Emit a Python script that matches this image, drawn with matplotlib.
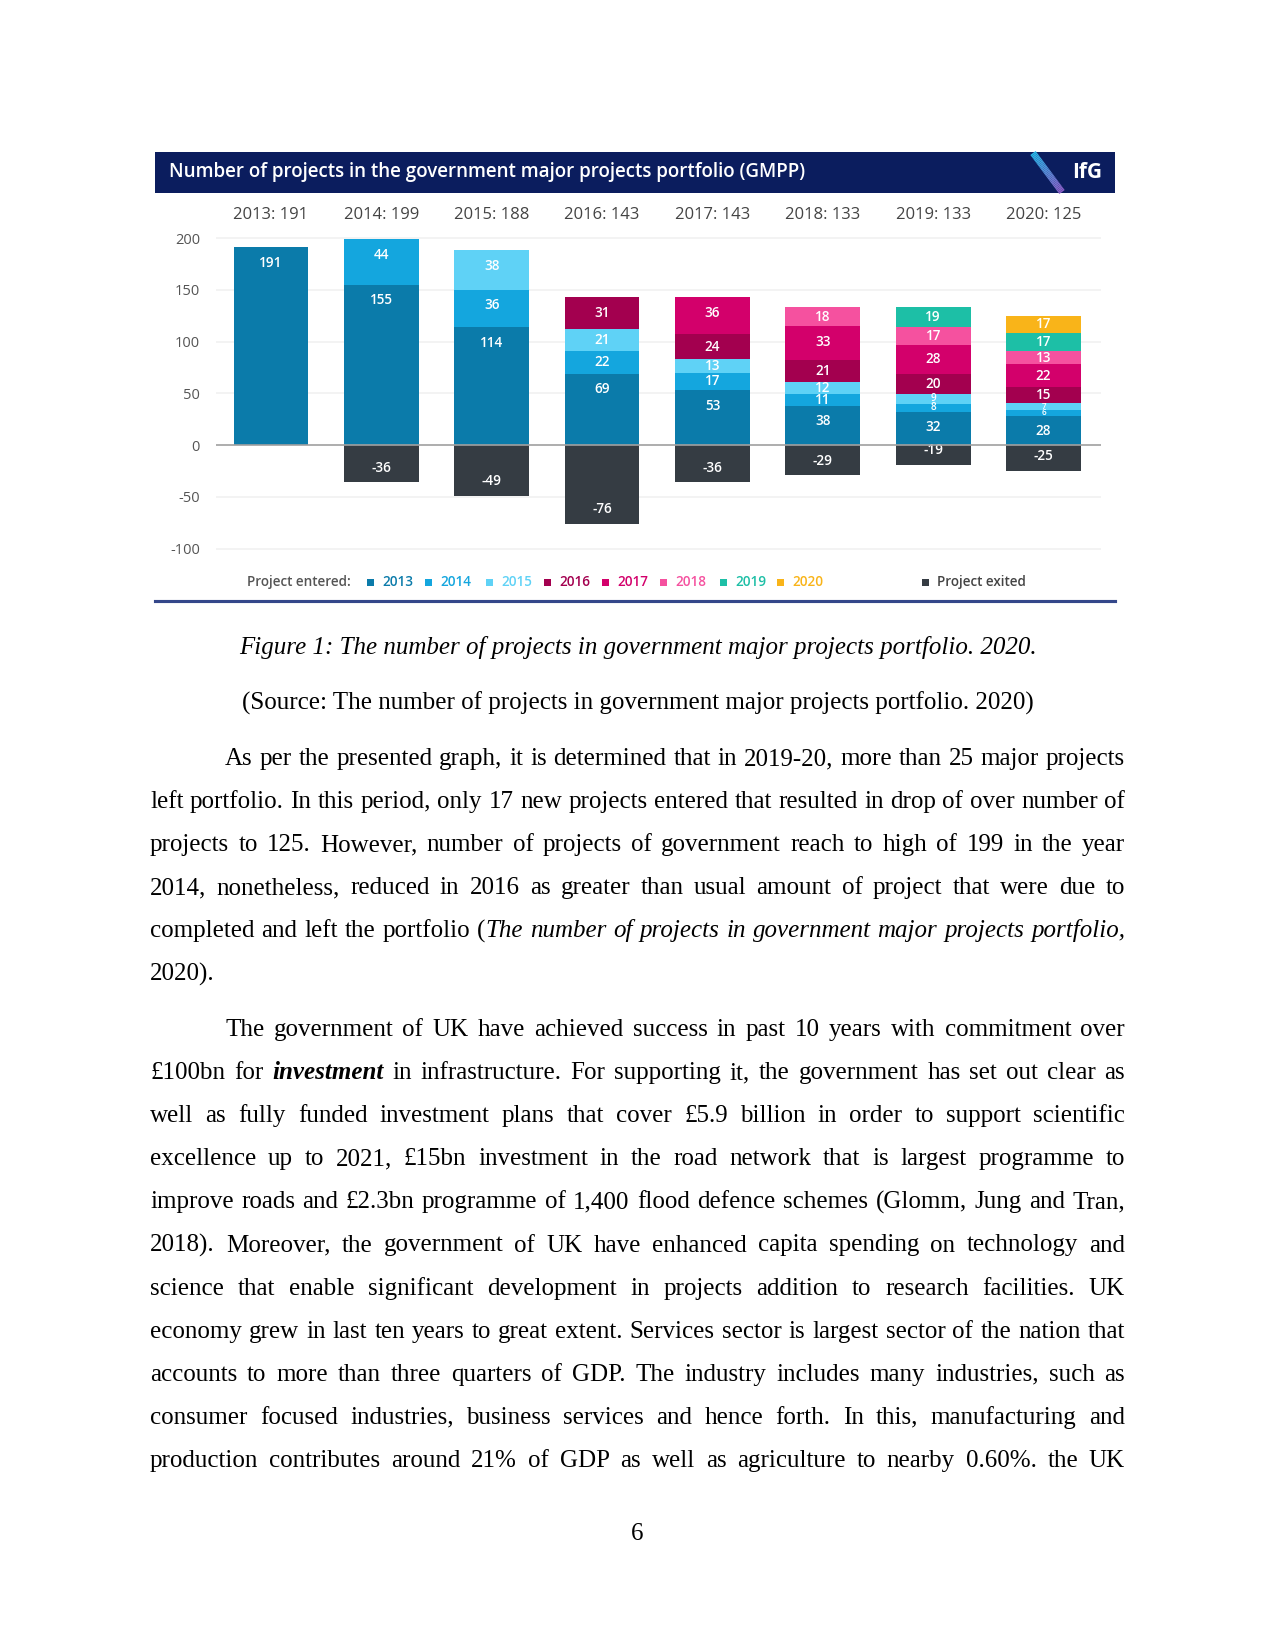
# Pagina con el grafico de proyectos del GMPP y el texto que lo acompana

import matplotlib
matplotlib.use('Agg')
import numpy as np
import matplotlib.pyplot as plt
from matplotlib.patches import Rectangle
from matplotlib.lines import Line2D

W, H = 1275, 1650  # tamano de la pagina en pixeles

# Datos del grafico: cada cohorte (ano de entrada) en cada foto anual
snapshots = ['2013', '2014', '2015', '2016', '2017', '2018', '2019', '2020']
cohorts = ['2013', '2014', '2015', '2016', '2017', '2018', '2019', '2020']
c2013 = [191, 155, 114, 69, 53, 38, 32, 28]
c2014 = [0, 44, 36, 22, 17, 11, 8, 6]
c2015 = [0, 0, 38, 21, 13, 12, 9, 7]
c2016 = [0, 0, 0, 31, 24, 21, 20, 15]
c2017 = [0, 0, 0, 0, 36, 33, 28, 22]
c2018 = [0, 0, 0, 0, 0, 18, 17, 13]
c2019 = [0, 0, 0, 0, 0, 0, 19, 17]
c2020 = [0, 0, 0, 0, 0, 0, 0, 17]
exited = [0, -36, -49, -76, -36, -29, -19, -25]
series = [c2013, c2014, c2015, c2016, c2017, c2018, c2019, c2020]
yticks = [-100, -50, 0, 50, 100, 150, 200]

title = 'Number of projects in the government major projects portfolio (GMPP)'

colores = ['#0B7BAA', '#14A6DE', '#5FD2F6', '#A3004F', '#D3006B',
           '#F5519F', '#1DBFA6', '#F9B419']
color_exit = '#353C43'

# Texto de la pagina (| abre/cierra cursiva, # abre/cierra negrita cursiva)
caption = 'Figure 1: The number of projects in government major projects portfolio. 2020.'
source = '(Source: The number of projects in government major projects portfolio. 2020)'
para1 = [
    'As per the presented graph, it is determined that in 2019-20, more than 25 major projects',
    'left portfolio. In this period, only 17 new projects entered that resulted in drop of over number of',
    'projects to 125. However, number of projects of government reach to high of 199 in the year',
    '2014, nonetheless, reduced in 2016 as greater than usual amount of project that were due to',
    'completed and left the portfolio (|The number of projects in government major projects portfolio,|',
    '2020).',
]
para2 = [
    'The government of UK have achieved success in past 10 years with commitment over',
    '£100bn for #investment# in infrastructure. For supporting it, the government has set out clear as',
    'well as fully funded investment plans that cover £5.9 billion in order to support scientific',
    'excellence up to 2021, £15bn investment in the road network that is largest programme to',
    'improve roads and £2.3bn programme of 1,400 flood defence schemes (Glomm, Jung and Tran,',
    '2018). Moreover, the government of UK have enhanced capita spending on technology and',
    'science that enable significant development in projects addition to research facilities. UK',
    'economy grew in last ten years to great extent. Services sector is largest sector of the nation that',
    'accounts to more than three quarters of GDP. The industry includes many industries, such as',
    'consumer focused industries, business services and hence forth. In this, manufacturing and',
    'production contributes around 21% of GDP as well as agriculture to nearby 0.60%. the UK',
]


def fx(x):
    return x / W


def fy(y):
    return 1 - y / H


fig = plt.figure(figsize=(W / 150, H / 150), dpi=150)
fig.patch.set_facecolor('white')

# ---- cabecera del grafico ----
fig.add_artist(Rectangle((fx(154.6), fy(192.5)), (1115 - 154.6) / W, 40 / H,
                         transform=fig.transFigure, color='#0B1D5E', lw=0))
fig.text(fx(169), fy(172), title, color='white', fontsize=9, fontweight='semibold',
         family='Open Sans', va='center', ha='left')
# franja del logo con degradado
n = 30
for k in range(n):
    t0, t1 = k / n, (k + 1) / n
    xa, ya = 1033 + 29 * t0, 153 + 39 * t0
    xb, yb = 1033 + 29 * t1, 153 + 39 * t1
    c = np.array([0.16, 0.72, 0.91]) * (1 - t0) + np.array([0.56, 0.36, 0.78]) * t0
    fig.add_artist(Line2D([fx(xa), fx(xb)], [fy(ya), fy(yb)], color=c, lw=3.2,
                          transform=fig.transFigure, solid_capstyle='butt'))
fig.text(fx(1087), fy(172), 'IfG', color='white', fontsize=10, fontweight='bold',
         family='Open Sans', va='center', ha='center')

# ---- grafico de barras ----
ax = fig.add_axes([fx(215.7), fy(558.9), (1101 - 215.7) / W, (558.9 - 201.8) / H])
x = np.arange(len(snapshots))
ancho = 0.677

for yt in yticks:
    if yt != 0:
        ax.axhline(yt, color='#f1f1f1', lw=0.8, zorder=0)


def tam(v):
    # los segmentos muy finos llevan la etiqueta mas chica
    if v >= 10:
        return 6.5
    if v >= 8:
        return 4.8
    return 3.9


bottom = np.zeros(len(snapshots))
for nombre, vals, col in zip(cohorts, series, colores):
    vals = np.array(vals, dtype=float)
    ax.bar(x, vals, ancho, bottom=bottom, color=col, lw=0, zorder=2)
    for i, v in enumerate(vals):
        if v > 0:
            top = bottom[i] + v
            ax.text(x[i], top - min(v / 2, 15), '%d' % v, ha='center', va='center',
                    color='white', fontsize=tam(v),
                    fontweight='semibold', family='Open Sans', zorder=3)
    bottom += vals

ax.bar(x, exited, ancho, color=color_exit, lw=0, zorder=2)
for i, v in enumerate(exited):
    if v < 0:
        ax.text(x[i], v + 14, '%d' % v, ha='center', va='center', color='white',
                fontsize=6.5, fontweight='semibold', family='Open Sans', zorder=3)

ax.axhline(0, color='#a0a0a0', lw=0.8, zorder=3)

totales = np.array(series).sum(axis=0)
for i, s in enumerate(snapshots):
    ax.text(x[i], 222.6, '%s: %d' % (s, totales[i]), ha='center', va='center',
            fontsize=8, color='#444444', family='Open Sans')

ax.set_xlim(-0.5, 7.52)
ax.set_ylim(-110, 235)
ax.set_xticks([])
ax.set_yticks(yticks)
ax.set_yticklabels([str(v) for v in yticks], family='Open Sans', fontsize=7, color='#555555')
ax.tick_params(axis='y', length=0, pad=7.5)
for sp in ax.spines.values():
    sp.set_visible(False)
ax.patch.set_alpha(0)

# ---- leyenda ----
leg_x = [367, 425, 486, 544, 602, 660, 720, 777]
ly = 582
fig.text(fx(247), fy(ly), 'Project entered:', fontsize=6.5, fontweight='semibold',
         color='#555555', family='Open Sans', va='center', ha='left')
for lx, nombre, col in zip(leg_x, cohorts, colores):
    fig.add_artist(Rectangle((fx(lx), fy(ly + 3.5)), 7 / W, 7 / H,
                             transform=fig.transFigure, color=col, lw=0))
    fig.text(fx(lx + 15), fy(ly), nombre, fontsize=6.5, fontweight='semibold',
             color=col, family='Open Sans', va='center', ha='left')
fig.add_artist(Rectangle((fx(922), fy(ly + 3.5)), 7 / W, 7 / H,
                         transform=fig.transFigure, color=color_exit, lw=0))
fig.text(fx(937), fy(ly), 'Project exited', fontsize=6.5, fontweight='semibold',
         color='#444444', family='Open Sans', va='center', ha='left')

fig.add_artist(Line2D([fx(154.6), fx(1115)], [fy(600.7), fy(600.7)], color='#34478A',
                      lw=1.5, transform=fig.transFigure))

# ---- texto del documento ----
renderer = fig.canvas.get_renderer()


def put(txt, estilo, x, y, ha='left'):
    kw = dict(family='Liberation Serif', fontsize=12, color='black', va='baseline', ha=ha)
    if estilo != 'normal':
        kw['style'] = 'italic'
    if estilo == 'bolditalic':
        kw['weight'] = 'bold'
    t = fig.text(fx(x), fy(y), txt, **kw)
    return t, t.get_window_extent(renderer).width


def partir(line):
    palabras = []
    estilo = 'normal'
    for w in line.split(' '):
        piezas = []
        buf = ''
        for ch in w:
            if ch in '|#':
                if buf:
                    piezas.append((buf, estilo))
                buf = ''
                if ch == '|':
                    estilo = 'italic' if estilo == 'normal' else 'normal'
                else:
                    estilo = 'bolditalic' if estilo == 'normal' else 'normal'
            else:
                buf += ch
        if buf:
            piezas.append((buf, estilo))
        palabras.append(piezas)
    return palabras


tmp, w1 = put('x x', 'normal', 0, 0)
tmp.remove()
tmp, w2 = put('xx', 'normal', 0, 0)
tmp.remove()
espacio = w1 - w2


def linea(line, y, x0=150, x1=1125, justify=True):
    palabras = partir(line)
    objs, anchos = [], []
    for piezas in palabras:
        ws = [put(txt, est, 0, y) for txt, est in piezas]
        objs.append(ws)
        anchos.append(sum(w for _, w in ws))
    if justify and len(palabras) > 1:
        gap = (x1 - x0 - sum(anchos)) / (len(palabras) - 1)
    else:
        gap = espacio
    xx = x0
    for ws, wt in zip(objs, anchos):
        xp = xx
        for t, w in ws:
            t.set_x(fx(xp))
            xp += w
        xx += wt + gap


put(caption, 'italic', 637.5, 654, ha='center')
put(source, 'normal', 637.5, 710, ha='center')

paso = 43.1
for k, l in enumerate(para1):
    linea(l, 765 + k * paso, x0=225 if k == 0 else 150, justify=(k < len(para1) - 1))
for k, l in enumerate(para2):
    linea(l, 1036 + k * paso, x0=225 if k == 0 else 150)

put('6', 'normal', 637.5, 1540, ha='center')

fig.savefig('out.png', dpi=150)
